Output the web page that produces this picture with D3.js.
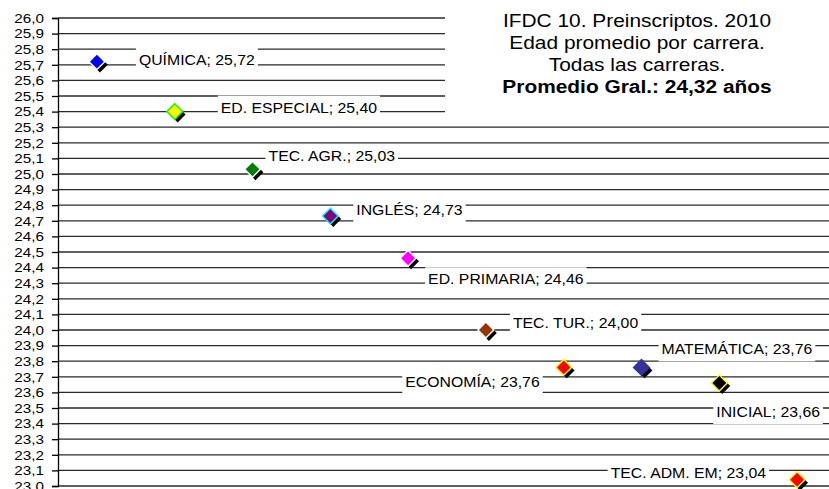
<!DOCTYPE html>
<html>
<head>
<meta charset="utf-8">
<script src="https://d3js.org/d3.v7.min.js"></script>
<style>
  body { margin: 0; background: #fff; }
  text { font-family: Arial, "Liberation Sans", sans-serif; fill: #000; }
</style>
</head>
<body>
<script>
// data
var carreras = ["QUÍMICA", "ED. ESPECIAL", "TEC. AGR.", "INGLÉS", "ED. PRIMARIA",
                "TEC. TUR.", "ECONOMÍA", "MATEMÁTICA", "INICIAL", "TEC. ADM. EM"];
var edades = [25.72, 25.40, 25.03, 24.73, 24.46, 24.00, 23.76, 23.76, 23.66, 23.04];
var yTicks = d3.range(230, 261).map(function(d) { return d / 10; });
var titulo = ["IFDC 10. Preinscriptos. 2010", "Edad promedio por carrera.",
              "Todas las carreras.", "Promedio Gral.: 24,32 años"];

// marker colours
var rellenos = ["#0000ff", "#ffff00", "#008000", "#800080", "#ff00ff",
                "#993300", "#ff0000", "#333399", "#000000", "#ff0000"];
var bordes = ["#ffffff", "#00ff00", "#ffffff", "#00ffff", "#ffffff",
              "#ffffff", "#ffff00", "#333399", "#ffff00", "#ffff00"];
// label placement relative to the marker: dx, dy, anchor
var etiquetas = [[42, -2, "start"], [46, -4, "start"], [16, -13, "start"], [26, -6, "start"],
                 [20, 21, "start"], [27, -7, "start"], [-24, 15, "end"], [20, -18, "start"],
                 [-3, 29, "start"], [-31, -7, "end"]];

var W = 829, H = 489, sx = 1.13;
var mLeft = 58, mTop = 18, mBottom = 486, mRight = 836;

var svg = d3.select("body").append("svg")
    .attr("width", W).attr("height", H);

var x = d3.scalePoint().domain(carreras).range([mLeft, mRight]).padding(0.5);
var y = d3.scaleLinear().domain([23, 26]).range([mBottom, mTop]);

function coma(v, n) { return v.toFixed(n).replace(".", ","); }

// grid lines
svg.append("g").selectAll("line")
    .data(yTicks)
    .enter().append("line")
    .attr("x1", mLeft).attr("x2", mRight)
    .attr("y1", function(d) { return y(d); })
    .attr("y2", function(d) { return y(d); })
    .attr("stroke", "#2a2a2a").attr("stroke-width", 1.3);

// y axis
var yAxis = d3.axisLeft(y).tickValues(yTicks).tickSize(6).tickPadding(8)
    .tickFormat(function(d) { return coma(d, 1); });
var ax = svg.append("g").attr("transform", "translate(" + mLeft + ",0)").call(yAxis);
ax.select(".domain").attr("stroke", "#000").attr("stroke-width", 1.3);
ax.selectAll(".tick line").attr("stroke", "#000").attr("stroke-width", 1.3);
ax.selectAll(".tick text")
    .attr("font-family", "Arial, 'Liberation Sans', sans-serif")
    .attr("font-size", 13.5).attr("fill", "#000")
    .attr("transform", function() {
      var tx = +d3.select(this).attr("x");
      return "translate(" + tx + ",0) scale(" + sx + ",1)";
    })
    .attr("x", 0);

// title box
svg.append("rect").attr("x", 445).attr("y", 0).attr("width", W - 445).attr("height", 120)
    .attr("fill", "#fff");
svg.append("g").selectAll("text")
    .data(titulo)
    .enter().append("text")
    .attr("transform", function(d, i) { return "translate(637," + (26.5 + i * 22.3) + ") scale(" + sx + ",1)"; })
    .attr("text-anchor", "middle")
    .attr("font-size", 18.5)
    .attr("font-weight", function(d, i) { return i == 3 ? "bold" : "normal"; })
    .text(function(d) { return d; });

// data labels with white boxes
var lab = svg.append("g").selectAll("g")
    .data(carreras)
    .enter().append("g")
    .attr("transform", function(d, i) {
      return "translate(" + (x(d) + etiquetas[i][0]) + "," + (y(edades[i]) + etiquetas[i][1]) + ")";
    });
lab.append("text")
    .attr("transform", "scale(" + sx + ",1)")
    .attr("text-anchor", function(d, i) { return etiquetas[i][2]; })
    .attr("dy", "0.36em")
    .attr("font-size", 14)
    .text(function(d, i) { return d + "; " + coma(edades[i], 2); });
lab.each(function() {
  var g = d3.select(this);
  var bb = this.getBBox();
  g.insert("rect", "text")
    .attr("x", bb.x - 3).attr("y", -12)
    .attr("width", bb.width + 6).attr("height", 24)
    .attr("fill", "#fff");
});

// markers: black shadow then coloured diamond
var diamante = d3.symbol().type(d3.symbolSquare).size(125);
var pts = svg.append("g").selectAll("g")
    .data(carreras)
    .enter().append("g")
    .attr("transform", function(d, i) { return "translate(" + x(d) + "," + y(edades[i]) + ")"; });
pts.append("path")
    .attr("d", diamante)
    .attr("transform", "translate(3,3) rotate(45)")
    .attr("fill", "#000");
pts.append("path")
    .attr("d", diamante)
    .attr("transform", "rotate(45)")
    .attr("fill", function(d, i) { return rellenos[i]; })
    .attr("stroke", function(d, i) { return bordes[i]; })
    .attr("stroke-width", 1.4);
</script>
</body>
</html>
